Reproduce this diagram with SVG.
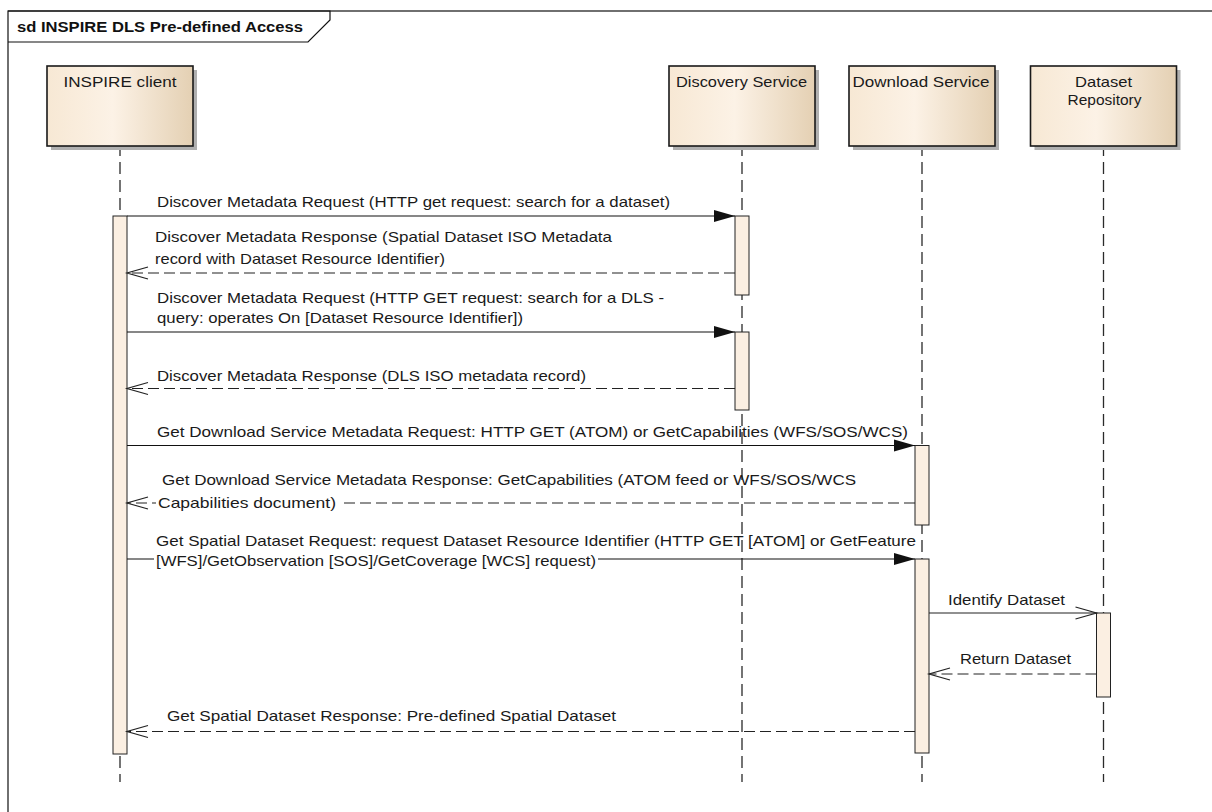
<svg xmlns="http://www.w3.org/2000/svg" width="1212" height="812" viewBox="0 0 1212 812">
<defs>
<linearGradient id="boxg" x1="0" y1="0" x2="1" y2="0">
<stop offset="0" stop-color="#f7e8d4"/>
<stop offset="0.45" stop-color="#fcf2e6"/>
<stop offset="1" stop-color="#e4d0b3"/>
</linearGradient>
<marker id="filled" markerUnits="userSpaceOnUse" markerWidth="22" markerHeight="14" refX="21" refY="6" orient="auto" overflow="visible">
<path d="M0,0 L21,6 L0,12 z" fill="#111" stroke="none"/>
</marker>
<marker id="open" markerUnits="userSpaceOnUse" markerWidth="22" markerHeight="14" refX="21" refY="6" orient="auto" overflow="visible">
<path d="M0,0 L21,6 L0,12" fill="none" stroke="#222" stroke-width="1.2" stroke-dasharray="none"/>
</marker>
<style>
.lbl{font-family:"Liberation Sans",Arial,sans-serif;font-size:14.5px;fill:#1a1a1a}
.ttl{font-family:"Liberation Sans",Arial,sans-serif;font-size:14px;font-weight:bold;fill:#111}
.box{fill:url(#boxg);stroke:#1a1a1a;stroke-width:1.6}
.shadow{fill:#b0b0b0}
.life{stroke:#2a2a2a;stroke-width:1.3;stroke-dasharray:12 6;stroke-dashoffset:2;fill:none}
.act{fill:#fbefe2;stroke:#222;stroke-width:1}
.sync{stroke:#111;stroke-width:1.2;fill:none;marker-end:url(#filled)}
.call{stroke:#222;stroke-width:1.2;fill:none;marker-end:url(#open)}
.ret{stroke:#222;stroke-width:1.2;fill:none;stroke-dasharray:11 5;marker-end:url(#open)}
.bg{fill:#ffffff}
</style>
</defs>
<rect x="0" y="0" width="1212" height="812" fill="#ffffff"/>
<g id="frame">
<rect x="8" y="11" width="1220" height="820" fill="none" stroke="#111" stroke-width="1.2"/>
<path d="M8,11 L330,11 L330,20 L308,42 L8,42" fill="none" stroke="#111" stroke-width="1.2"/>
<text class="ttl" x="17" y="32" textLength="286" lengthAdjust="spacingAndGlyphs">sd INSPIRE DLS Pre-defined Access</text>
</g>
<g id="inspire-client">
<line class="life" x1="120" y1="146" x2="120" y2="782"/>
<rect class="shadow" x="51" y="70" width="146" height="80"/>
<rect class="box" x="47" y="66" width="146" height="80"/>
<text class="lbl" x="120" y="87" text-anchor="middle" textLength="113" lengthAdjust="spacingAndGlyphs">INSPIRE client</text>
<rect class="act" x="113" y="216" width="14" height="538"/>
</g>
<g id="discovery-service">
<line class="life" x1="742" y1="146" x2="742" y2="782"/>
<rect class="shadow" x="673" y="70" width="146" height="80"/>
<rect class="box" x="669" y="66" width="146" height="80"/>
<text class="lbl" x="741.5" y="87" text-anchor="middle" textLength="131" lengthAdjust="spacingAndGlyphs">Discovery Service</text>
<rect class="act" x="735" y="216" width="14" height="79"/>
<rect class="act" x="735" y="332" width="14" height="78"/>
</g>
<g id="download-service">
<line class="life" x1="922" y1="146" x2="922" y2="782"/>
<rect class="shadow" x="853" y="70" width="146" height="80"/>
<rect class="box" x="849" y="66" width="146" height="80"/>
<text class="lbl" x="921" y="87" text-anchor="middle" textLength="137" lengthAdjust="spacingAndGlyphs">Download Service</text>
<rect class="act" x="915" y="445.5" width="14" height="79.5"/>
<rect class="act" x="915" y="559" width="14" height="194"/>
</g>
<g id="dataset-repository">
<line class="life" x1="1103.5" y1="146" x2="1103.5" y2="782"/>
<rect class="shadow" x="1034.5" y="70" width="146" height="80"/>
<rect class="box" x="1030.5" y="66" width="146" height="80"/>
<text class="lbl" x="1103.5" y="87" text-anchor="middle" textLength="57" lengthAdjust="spacingAndGlyphs">Dataset</text>
<text class="lbl" x="1104.5" y="105" text-anchor="middle" textLength="74" lengthAdjust="spacingAndGlyphs">Repository</text>
<rect class="act" x="1096.5" y="613" width="14" height="84"/>
</g>
<g id="connectors">
<line class="sync" x1="127" y1="216" x2="735" y2="216"/>
<text class="lbl" x="157" y="207" textLength="513" lengthAdjust="spacingAndGlyphs">Discover Metadata Request (HTTP get request: search for a dataset)</text>
<line class="ret" x1="735" y1="273" x2="127" y2="273"/>
<text class="lbl" x="155" y="242" textLength="457" lengthAdjust="spacingAndGlyphs">Discover Metadata Response (Spatial Dataset ISO Metadata</text>
<text class="lbl" x="155" y="264" textLength="290" lengthAdjust="spacingAndGlyphs">record with Dataset Resource Identifier)</text>
<line class="sync" x1="127" y1="332" x2="735" y2="332"/>
<text class="lbl" x="157" y="303" textLength="507" lengthAdjust="spacingAndGlyphs">Discover Metadata Request (HTTP GET request: search for a DLS -</text>
<text class="lbl" x="157" y="323" textLength="366" lengthAdjust="spacingAndGlyphs">query: operates On [Dataset Resource Identifier])</text>
<line class="ret" x1="735" y1="388.5" x2="127" y2="388.5"/>
<text class="lbl" x="157" y="381" textLength="429" lengthAdjust="spacingAndGlyphs">Discover Metadata Response (DLS ISO metadata record)</text>
<line class="sync" x1="127" y1="445.5" x2="915" y2="445.5"/>
<text class="lbl" x="157" y="437" textLength="751" lengthAdjust="spacingAndGlyphs">Get Download Service Metadata Request: HTTP GET (ATOM) or GetCapabilities (WFS/SOS/WCS)</text>
<line class="ret" x1="915" y1="503" x2="127" y2="503"/>
<text class="lbl" x="162" y="485" textLength="694" lengthAdjust="spacingAndGlyphs">Get Download Service Metadata Response: GetCapabilities (ATOM feed or WFS/SOS/WCS</text>
<rect class="bg" x="156" y="494" width="183" height="17"/>
<text class="lbl" x="158" y="507.5" textLength="178" lengthAdjust="spacingAndGlyphs">Capabilities document)</text>
<line class="sync" x1="127" y1="559" x2="915" y2="559"/>
<text class="lbl" x="156" y="546" textLength="760" lengthAdjust="spacingAndGlyphs">Get Spatial Dataset Request: request Dataset Resource Identifier (HTTP GET [ATOM] or GetFeature</text>
<rect class="bg" x="154" y="553" width="444" height="17"/>
<text class="lbl" x="156" y="566" textLength="440" lengthAdjust="spacingAndGlyphs">[WFS]/GetObservation [SOS]/GetCoverage [WCS] request)</text>
<line class="call" x1="929" y1="613" x2="1096.5" y2="613"/>
<text class="lbl" x="948" y="605" textLength="117" lengthAdjust="spacingAndGlyphs">Identify Dataset</text>
<line class="ret" x1="1096.5" y1="674" x2="929" y2="674"/>
<text class="lbl" x="960" y="663.5" textLength="111" lengthAdjust="spacingAndGlyphs">Return Dataset</text>
<line class="ret" x1="915" y1="731.5" x2="127" y2="731.5"/>
<text class="lbl" x="167" y="721" textLength="449" lengthAdjust="spacingAndGlyphs">Get Spatial Dataset Response: Pre-defined Spatial Dataset</text>
</g>
</svg>
